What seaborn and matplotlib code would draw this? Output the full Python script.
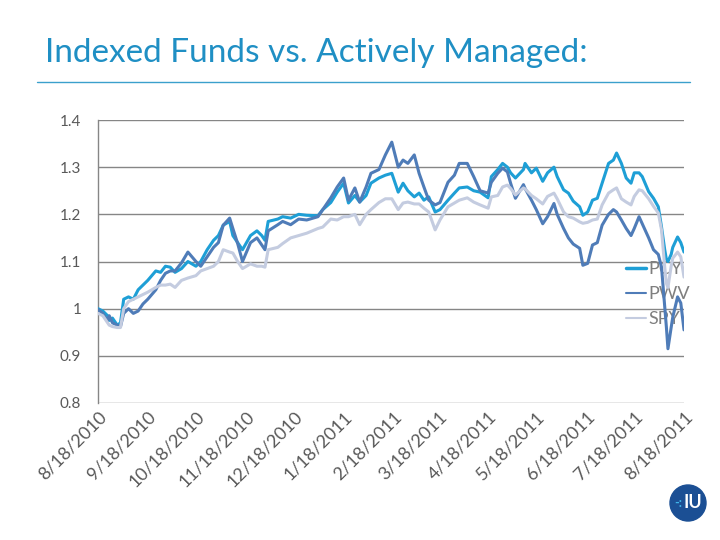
import matplotlib
matplotlib.use("Agg")
import matplotlib.pyplot as plt
from matplotlib.patches import Ellipse
from matplotlib.lines import Line2D
import seaborn as sns
import pandas as pd

dates = [
    "2010-08-18", "2010-08-21", "2010-08-24", "2010-08-25", "2010-08-27", "2010-08-30",
    "2010-09-01", "2010-09-03", "2010-09-06", "2010-09-09", "2010-09-12", "2010-09-15",
    "2010-09-18", "2010-09-23", "2010-09-26", "2010-09-29", "2010-10-02", "2010-10-05",
    "2010-10-09", "2010-10-13", "2010-10-18", "2010-10-21", "2010-10-25", "2010-10-29",
    "2010-11-01", "2010-11-04", "2010-11-08", "2010-11-10", "2010-11-13", "2010-11-16",
    "2010-11-21", "2010-11-25", "2010-11-28", "2010-11-30", "2010-12-02", "2010-12-08",
    "2010-12-11", "2010-12-16", "2010-12-21", "2010-12-26", "2011-01-02", "2011-01-05",
    "2011-01-10", "2011-01-14", "2011-01-18", "2011-01-21", "2011-01-25", "2011-01-28",
    "2011-02-01", "2011-02-04", "2011-02-09", "2011-02-13", "2011-02-17", "2011-02-21",
    "2011-02-24", "2011-02-27", "2011-03-03", "2011-03-06", "2011-03-09", "2011-03-12",
    "2011-03-16", "2011-03-19", "2011-03-24", "2011-03-28", "2011-03-31", "2011-04-05",
    "2011-04-09", "2011-04-13", "2011-04-18", "2011-04-20", "2011-04-24", "2011-04-27",
    "2011-04-30", "2011-05-02", "2011-05-05", "2011-05-10", "2011-05-11", "2011-05-15",
    "2011-05-18", "2011-05-22", "2011-05-25", "2011-05-29", "2011-05-31", "2011-06-04",
    "2011-06-07", "2011-06-10", "2011-06-14", "2011-06-16", "2011-06-19", "2011-06-22",
    "2011-06-25", "2011-06-28", "2011-07-02", "2011-07-05", "2011-07-07", "2011-07-10",
    "2011-07-13", "2011-07-16", "2011-07-18", "2011-07-21", "2011-07-23", "2011-07-27",
    "2011-07-30", "2011-08-02", "2011-08-04", "2011-08-06", "2011-08-07", "2011-08-08",
    "2011-08-10", "2011-08-11", "2011-08-14", "2011-08-16", "2011-08-18",
]

pcy = [
    1.000, 0.995, 0.985, 0.975, 0.980, 0.965,
    0.970, 1.020, 1.025, 1.020, 1.040, 1.050,
    1.060, 1.080, 1.077, 1.090, 1.088, 1.077,
    1.085, 1.100, 1.090, 1.100, 1.125, 1.145,
    1.155, 1.177, 1.185, 1.155, 1.140, 1.125,
    1.155, 1.165, 1.155, 1.145, 1.185, 1.190,
    1.195, 1.192, 1.200, 1.198, 1.197, 1.210,
    1.225, 1.247, 1.266, 1.224, 1.240, 1.226,
    1.240, 1.266, 1.277, 1.283, 1.287, 1.247,
    1.266, 1.250, 1.237, 1.245, 1.230, 1.237,
    1.205, 1.210, 1.230, 1.245, 1.256, 1.258,
    1.250, 1.247, 1.235, 1.280, 1.295, 1.308,
    1.300, 1.288, 1.277, 1.295, 1.308, 1.288,
    1.298, 1.270, 1.288, 1.300, 1.280, 1.252,
    1.245, 1.228, 1.216, 1.198, 1.205, 1.230,
    1.234, 1.266, 1.308, 1.315, 1.330, 1.308,
    1.277, 1.266, 1.288, 1.288, 1.280, 1.248,
    1.234, 1.216, 1.173, 1.125, 1.105, 1.100,
    1.115, 1.130, 1.152, 1.140, 1.120,
]

pwv = [
    0.998, 0.990, 0.975, 0.985, 0.970, 0.965,
    0.962, 0.990, 1.000, 0.990, 0.995, 1.010,
    1.020, 1.040, 1.060, 1.075, 1.080, 1.080,
    1.097, 1.120, 1.100, 1.090, 1.110, 1.130,
    1.140, 1.177, 1.192, 1.170, 1.138, 1.100,
    1.140, 1.150, 1.135, 1.125, 1.165, 1.178,
    1.185, 1.178, 1.190, 1.188, 1.195, 1.210,
    1.235, 1.258, 1.277, 1.230, 1.256, 1.226,
    1.258, 1.287, 1.295, 1.326, 1.353, 1.300,
    1.315, 1.308, 1.326, 1.287, 1.258, 1.230,
    1.220, 1.225, 1.268, 1.283, 1.308, 1.308,
    1.280, 1.250, 1.245, 1.268, 1.287, 1.298,
    1.290, 1.266, 1.234, 1.263, 1.255, 1.230,
    1.210, 1.180, 1.195, 1.223, 1.200, 1.170,
    1.150, 1.137, 1.128, 1.092, 1.096, 1.135,
    1.140, 1.177, 1.200, 1.210, 1.205, 1.188,
    1.170, 1.155, 1.170, 1.195, 1.180, 1.150,
    1.125, 1.115, 1.088, 1.004, 0.962, 0.915,
    0.960, 0.982, 1.025, 1.012, 0.955,
]

spy = [
    0.990, 0.985, 0.970, 0.965, 0.962, 0.960,
    0.960, 1.000, 1.015, 1.020, 1.025, 1.030,
    1.035, 1.045, 1.050, 1.050, 1.052, 1.045,
    1.060, 1.065, 1.070, 1.080, 1.085, 1.090,
    1.100, 1.125, 1.120, 1.118, 1.100, 1.085,
    1.095, 1.090, 1.090, 1.088, 1.125, 1.130,
    1.138, 1.150, 1.155, 1.160, 1.170, 1.173,
    1.190, 1.188, 1.195, 1.195, 1.200, 1.178,
    1.200, 1.210, 1.225, 1.233, 1.233, 1.210,
    1.224, 1.226, 1.222, 1.222, 1.213, 1.205,
    1.167, 1.188, 1.216, 1.224, 1.230, 1.235,
    1.226, 1.220, 1.213, 1.237, 1.240, 1.258,
    1.262, 1.255, 1.241, 1.256, 1.254, 1.240,
    1.233, 1.222, 1.238, 1.245, 1.233, 1.205,
    1.195, 1.192, 1.184, 1.181, 1.183, 1.188,
    1.190, 1.220, 1.245, 1.252, 1.256, 1.233,
    1.226, 1.220, 1.238, 1.252, 1.250, 1.233,
    1.217, 1.203, 1.167, 1.088, 1.054, 1.045,
    1.090, 1.107, 1.120, 1.110, 1.067,
]

series_names = ["PCY", "PWV", "SPY"]
series_colors = ["#1E9FD6", "#4F7CB8", "#C4CCE0"]

tick_dates = [
    "2010-08-18", "2010-09-18", "2010-10-18", "2010-11-18", "2010-12-18",
    "2011-01-18", "2011-02-18", "2011-03-18", "2011-04-18", "2011-05-18",
    "2011-06-18", "2011-07-18", "2011-08-18",
]
tick_labels = [
    "8/18/2010", "9/18/2010", "10/18/2010", "11/18/2010", "12/18/2010",
    "1/18/2011", "2/18/2011", "3/18/2011", "4/18/2011", "5/18/2011",
    "6/18/2011", "7/18/2011", "8/18/2011",
]
y_ticks = [0.8, 0.9, 1.0, 1.1, 1.2, 1.3, 1.4]
y_tick_labels = ["0.8", "0.9", "1", "1.1", "1.2", "1.3", "1.4"]

title_text = "Indexed Funds vs. Actively Managed:"

sns.set_style("white")
plt.rcParams["font.family"] = ["Lato", "DejaVu Sans"]

df = pd.DataFrame({
    "date": pd.to_datetime(dates * 3),
    "value": pcy + pwv + spy,
    "series": [n for n, s in zip(series_names, [pcy, pwv, spy]) for _ in s],
})

fig = plt.figure(figsize=(7.2, 5.4), dpi=100)
ax = fig.add_axes([98 / 720, 1 - 403 / 540, (684 - 98) / 720, 283 / 540])

sns.lineplot(data=df, x="date", y="value", hue="series",
             palette=dict(zip(series_names, series_colors)),
             linewidth=2.2, ax=ax, legend=False, zorder=3)

ax.set_xlim(pd.Timestamp(dates[0]), pd.Timestamp(dates[-1]))
ax.set_ylim(0.8, 1.4)
ax.set_yticks(y_ticks)
ax.set_yticklabels(y_tick_labels)
ax.set_xticks(pd.to_datetime(tick_dates))
ax.set_xticklabels(tick_labels, rotation=45, ha="right", va="top",
                   rotation_mode="anchor")
ax.set_xlabel("")
ax.set_ylabel("")

ax.set_axisbelow(True)
ax.yaxis.grid(True, color="#868686", linewidth=1.0)
ax.xaxis.grid(False)
for side in ["top", "right", "bottom"]:
    ax.spines[side].set_visible(False)
ax.spines["left"].set_color("#868686")
ax.spines["left"].set_linewidth(1.0)

ax.tick_params(axis="y", length=0, pad=12, labelsize=11, labelcolor="#595959")
ax.tick_params(axis="x", length=0, pad=4, labelsize=13, labelcolor="#595959")

handles = [Line2D([0], [0], color=c, linewidth=w)
           for c, w in zip(series_colors, [2.5, 1.5, 1.5])]
leg = ax.legend(handles, series_names, loc="center left",
                bbox_to_anchor=((626 - 98) / 586, (403 - 294) / 283),
                frameon=False, fontsize=13, handlelength=1.1,
                handletextpad=0.15, labelspacing=0.5, borderpad=0,
                borderaxespad=0)
for t in leg.get_texts():
    t.set_color("#7F7F7F")
leg.set_zorder(1)

fig.text(45 / 720, 1 - 62 / 540, title_text, fontsize=24, color="#1F8FC4",
         ha="left", va="baseline")
fig.add_artist(Line2D([37 / 720, 690 / 720], [1 - 82 / 540, 1 - 82 / 540],
                      transform=fig.transFigure, color="#3BA0CC", linewidth=1.0))

# logo
fig.add_artist(Ellipse((688 / 720, 1 - 503 / 540), 36 / 720, 36 / 540,
                       transform=fig.transFigure, color="#1B4F94"))
fig.text(693 / 720, 1 - 503 / 540, "IU", fontsize=13, fontweight="bold",
         color="white", ha="center", va="center")
fig.text(678 / 720, 1 - 503 / 540, "-:", fontsize=9, fontweight="bold",
         color="#3FB4E8", ha="center", va="center")

fig.savefig("out.png", dpi=100)
